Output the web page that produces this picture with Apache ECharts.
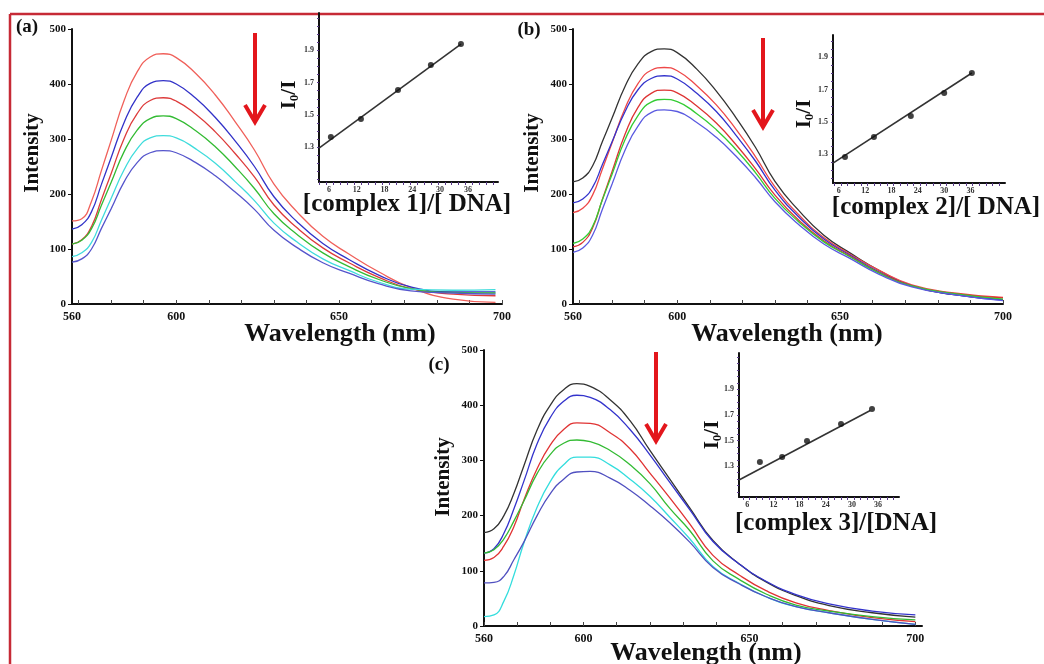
<!DOCTYPE html>
<html><head><meta charset="utf-8">
<script src="https://cdn.jsdelivr.net/npm/echarts@6/dist/echarts.min.js"></script>
<style>html,body{margin:0;padding:0;background:#fff}#c{width:1044px;height:664px}</style>
</head><body><div id="c"></div>
<script>
// ---- wavelength grids (nm) ----
const wlA = [568,571,574,577,580,584,588,592,596,600,606,612,618,624,630,637,645,653,662,672,685,698];
const wlB = [568,571,574,577,580,584,588,592,596,600,606,612,618,624,630,637,645,653,662,672,685,700];
const wlC = [570,573,576,579,582,586,590,594,598,602,608,614,620,626,632,639,647,655,664,674,687,700];
// ---- panel (a) intensities ----
const a1 = [151,155,187,242,297,370,422,449,455,448,419,380,332,280,218,168,123,91,59,30,9,3];
const a2 = [136,144,168,217,266,330,376,401,406,400,374,339,297,250,195,150,110,81,53,31,22,22];
const a3 = [109,117,141,189,237,301,346,370,375,369,345,313,274,231,180,139,102,75,49,28,18,15];
const a4 = [109,116,137,179,221,277,316,337,342,337,315,286,250,210,164,127,93,68,45,28,21,20];
const a5 = [86,93,112,152,192,244,282,302,306,302,282,256,223,188,147,113,82,61,40,27,25,26];
const a6 = [76,82,100,137,173,222,257,275,279,275,257,233,204,172,134,103,75,56,37,24,20,18];
// ---- panel (b) intensities ----
const b1 = [222,229,251,295,338,396,437,459,464,457,427,387,339,285,223,172,125,93,61,33,17,8];
const b2 = [166,174,198,245,293,356,401,425,430,424,397,362,318,268,213,164,121,91,61,35,20,12];
const b3 = [184,191,212,253,295,350,390,410,415,409,383,350,307,260,207,160,118,89,58,33,17,7];
const b4 = [104,112,138,190,241,309,358,383,389,384,360,329,290,246,198,154,115,87,57,33,19,11];
const b5 = [110,118,141,189,236,299,343,367,372,368,346,317,281,239,192,151,113,86,56,33,19,9];
const b6 = [94,102,125,172,218,280,324,348,353,350,330,303,269,230,186,146,109,83,54,31,17,6];
// ---- panel (c) intensities ----
const c1 = [169,176,200,240,290,355,400,428,439,434,410,372,318,266,214,155,112,80,55,37,24,16];
const c2 = [132,140,168,212,262,330,378,407,418,414,392,356,310,260,211,153,112,81,57,40,27,20];
const c3 = [119,124,145,180,228,285,328,356,368,367,350,321,277,232,185,128,92,64,42,28,15,8];
const c4 = [132,138,158,190,226,276,311,331,337,334,318,292,258,213,173,118,84,58,38,27,17,11];
const c5 = [17,20,45,92,150,215,262,292,306,306,292,266,235,197,158,108,77,53,35,24,12,3];
const c6 = [78,79,90,120,152,200,240,266,279,280,268,246,218,187,152,106,76,53,35,24,12,3];
// ---- insets: [complex]/[DNA] vs I0/I ----
const ratioA = [6.4,12.9,20.9,28.0,34.5];
const i0iA   = [1.363,1.475,1.654,1.809,1.939];
const fitA   = [[3.84,1.295],[34.5,1.939]];
const ratioB = [7.4,14.0,22.4,30.0,36.3];
const i0iB   = [1.283,1.406,1.537,1.679,1.803];
const fitB   = [[4.67,1.245],[36.3,1.803]];
const ratioC = [8.9,14.0,19.7,27.5,34.6];
const i0iC   = [1.333,1.372,1.497,1.629,1.746];
const fitC   = [[4.11,1.193],[34.2,1.735]];
// ---- tick labels ----
const xLabVals = [568,600,650,700];
const xLabValsC = [570,600,650,700];
const xLabText = ['560','600','650','700'];
const xMinorTicks = [570,580,590,600,610,620,630,640,650,660,670,680,690,700];
const insetXLabels = [6,12,18,24,30,36];
const insetYLabels = [1.3,1.5,1.7,1.9];

const SERIF = '"Liberation Serif","Times New Roman",serif';
const zip = (xs, ys) => xs.map((x, i) => [x, ys[i]]);

function mainX(gi, min, max, labVals) {
  return {
    gridIndex: gi, type: 'value', min: min, max: max,
    axisLine: {show: true, lineStyle: {color: '#111', width: 2}},
    axisTick: {show: true, inside: true, length: 4, customValues: xMinorTicks, lineStyle: {color: '#444', width: 1}},
    axisLabel: {show: true, customValues: labVals, margin: 7,
      formatter: v => xLabText[labVals.indexOf(v)] || '',
      fontFamily: SERIF, fontWeight: 'bold', fontSize: 12, color: '#111'},
    splitLine: {show: false}
  };
}
function mainY(gi) {
  return {
    gridIndex: gi, type: 'value', min: 0, max: 500, interval: 100,
    axisLine: {show: true, lineStyle: {color: '#111', width: 2}},
    axisTick: {show: true, length: 4, lineStyle: {color: '#111'}},
    axisLabel: {show: true, margin: 6, fontFamily: SERIF, fontWeight: 'bold', fontSize: 11, color: '#111'},
    splitLine: {show: false}
  };
}
function insetX(gi, min, max) {
  const ticks = []; for (let v = Math.ceil(min); v <= max; v += 1.5) ticks.push(v);
  return {
    gridIndex: gi, type: 'value', min: min, max: max,
    axisLine: {show: true, lineStyle: {color: '#111', width: 2}},
    axisTick: {show: true, length: 3, customValues: ticks, lineStyle: {color: '#5a3a8a', width: 1}},
    axisLabel: {show: true, customValues: insetXLabels, margin: 4, fontFamily: SERIF, fontWeight: 'bold', fontSize: 8, color: '#333'},
    splitLine: {show: false}
  };
}
function insetY(gi, min, max) {
  const ticks = []; for (let v = Math.ceil(min * 20) / 20; v <= max; v += 0.05) ticks.push(+v.toFixed(2));
  return {
    gridIndex: gi, type: 'value', min: min, max: max,
    axisLine: {show: true, lineStyle: {color: '#111', width: 2}},
    axisTick: {show: true, length: 2, customValues: ticks, lineStyle: {color: '#5a3a8a', width: 1}},
    axisLabel: {show: true, customValues: insetYLabels, margin: 5, formatter: v => v.toFixed(1),
      fontFamily: SERIF, fontWeight: 'bold', fontSize: 8, color: '#333'},
    splitLine: {show: false}
  };
}
function curve(xi, wl, ys, color) {
  return {type: 'line', xAxisIndex: xi, yAxisIndex: xi, data: zip(wl, ys), showSymbol: false,
    smooth: 0.5, lineStyle: {color: color, width: 1.3}, itemStyle: {color: color}, silent: true, z: 3};
}
function pts(xi, xs, ys) {
  return {type: 'scatter', xAxisIndex: xi, yAxisIndex: xi, data: zip(xs, ys), symbolSize: 6,
    itemStyle: {color: '#111'}, silent: true, z: 5};
}
function fit(xi, d) {
  return {type: 'line', xAxisIndex: xi, yAxisIndex: xi, data: d, showSymbol: false,
    lineStyle: {color: '#333', width: 1.6}, silent: true, z: 4};
}
function txt(x, y, text, size, rot) {
  return {type: 'text', x: x, y: y, rotation: rot || 0,
    style: {text: text, x: 0, y: 0, fill: '#111', font: 'bold ' + size + 'px ' + SERIF, textAlign: 'center', textVerticalAlign: 'middle'}};
}
function i0Label(x, y) {
  return {type: 'text', x: x, y: y, rotation: Math.PI / 2,
    style: {text: '{m|I}{s|0}{m|/I}', x: 0, y: 0, fill: '#111', textAlign: 'center', textVerticalAlign: 'middle',
      rich: {m: {fontFamily: SERIF, fontWeight: 'bold', fontSize: 21, lineHeight: 24},
             s: {fontFamily: SERIF, fontWeight: 'bold', fontSize: 13, lineHeight: 24, padding: [9, 0, 0, 0]}}}};
}
function arrow(x, y) {
  return {type: 'group', x: x, y: y, children: [
    {type: 'line', shape: {x1: 0, y1: 0, x2: 0, y2: 86}, style: {stroke: '#e3161c', lineWidth: 4}},
    {type: 'polyline', shape: {points: [[-10, 72], [0, 89], [10, 72]]}, style: {stroke: '#e3161c', lineWidth: 4, fill: null}}
  ]};
}

const chart = echarts.init(document.getElementById('c'), null, {renderer: 'canvas'});
chart.setOption({
  backgroundColor: '#fff',
  animation: false,
  grid: [
    {left: 72, top: 29, width: 430, height: 275, outerBoundsMode: 'none'},
    {left: 573, top: 29, width: 430, height: 275, outerBoundsMode: 'none'},
    {left: 484, top: 350, width: 438, height: 276, outerBoundsMode: 'none'},
    {left: 319, top: 13, width: 179, height: 169, outerBoundsMode: 'none'},
    {left: 833, top: 35, width: 172, height: 148, outerBoundsMode: 'none'},
    {left: 739, top: 353, width: 160, height: 144, outerBoundsMode: 'none'}
  ],
  xAxis: [
    mainX(0, 568, 700, xLabVals), mainX(1, 568, 700, xLabVals), mainX(2, 570, 702, xLabValsC),
    insetX(3, 3.84, 42.5), insetX(4, 4.67, 43.85), insetX(5, 4.11, 40.79)
  ],
  yAxis: [
    mainY(0), mainY(1), mainY(2),
    insetY(3, 1.085, 2.131), insetY(4, 1.122, 2.038), insetY(5, 1.061, 2.182)
  ],
  series: [
    curve(0, wlA, a1, '#f0605a'), curve(0, wlA, a2, '#3232c8'), curve(0, wlA, a3, '#dd3b3b'),
    curve(0, wlA, a4, '#33bb33'), curve(0, wlA, a5, '#3fdcdc'), curve(0, wlA, a6, '#5555cc'),
    curve(1, wlB, b1, '#333333'), curve(1, wlB, b2, '#ee4848'), curve(1, wlB, b3, '#3333cc'),
    curve(1, wlB, b4, '#dd3333'), curve(1, wlB, b5, '#33cc33'), curve(1, wlB, b6, '#5a5ae0'),
    curve(2, wlC, c1, '#333333'), curve(2, wlC, c2, '#3333cc'), curve(2, wlC, c3, '#e03333'),
    curve(2, wlC, c4, '#33bb33'), curve(2, wlC, c5, '#33dddd'), curve(2, wlC, c6, '#5050c0'),
    fit(3, fitA), pts(3, ratioA, i0iA),
    fit(4, fitB), pts(4, ratioB, i0iB),
    fit(5, fitC), pts(5, ratioC, i0iC)
  ],
  graphic: [
    {type: 'line', shape: {x1: 10, y1: 14, x2: 1044, y2: 14}, style: {stroke: '#c62a36', lineWidth: 2.5}},
    {type: 'line', shape: {x1: 10, y1: 14, x2: 10, y2: 664}, style: {stroke: '#c62a36', lineWidth: 2.5}},
    txt(27, 27, '(a)', 19), txt(529, 30, '(b)', 19), txt(439, 365, '(c)', 19),
    txt(33, 153, 'Intensity', 21, Math.PI / 2), txt(533, 153, 'Intensity', 21, Math.PI / 2), txt(444, 477, 'Intensity', 21, Math.PI / 2),
    txt(340, 334, 'Wavelength (nm)', 26), txt(787, 334, 'Wavelength (nm)', 26), txt(706, 653, 'Wavelength (nm)', 26),
    txt(407, 205, '[complex 1]/[ DNA]', 25), txt(936, 208, '[complex 2]/[ DNA]', 25), txt(836, 524, '[complex 3]/[DNA]', 25),
    i0Label(290, 95), i0Label(805, 114), i0Label(713, 435),
    arrow(255, 33), arrow(763, 38), arrow(656, 352)
  ]
});
</script></body></html>
